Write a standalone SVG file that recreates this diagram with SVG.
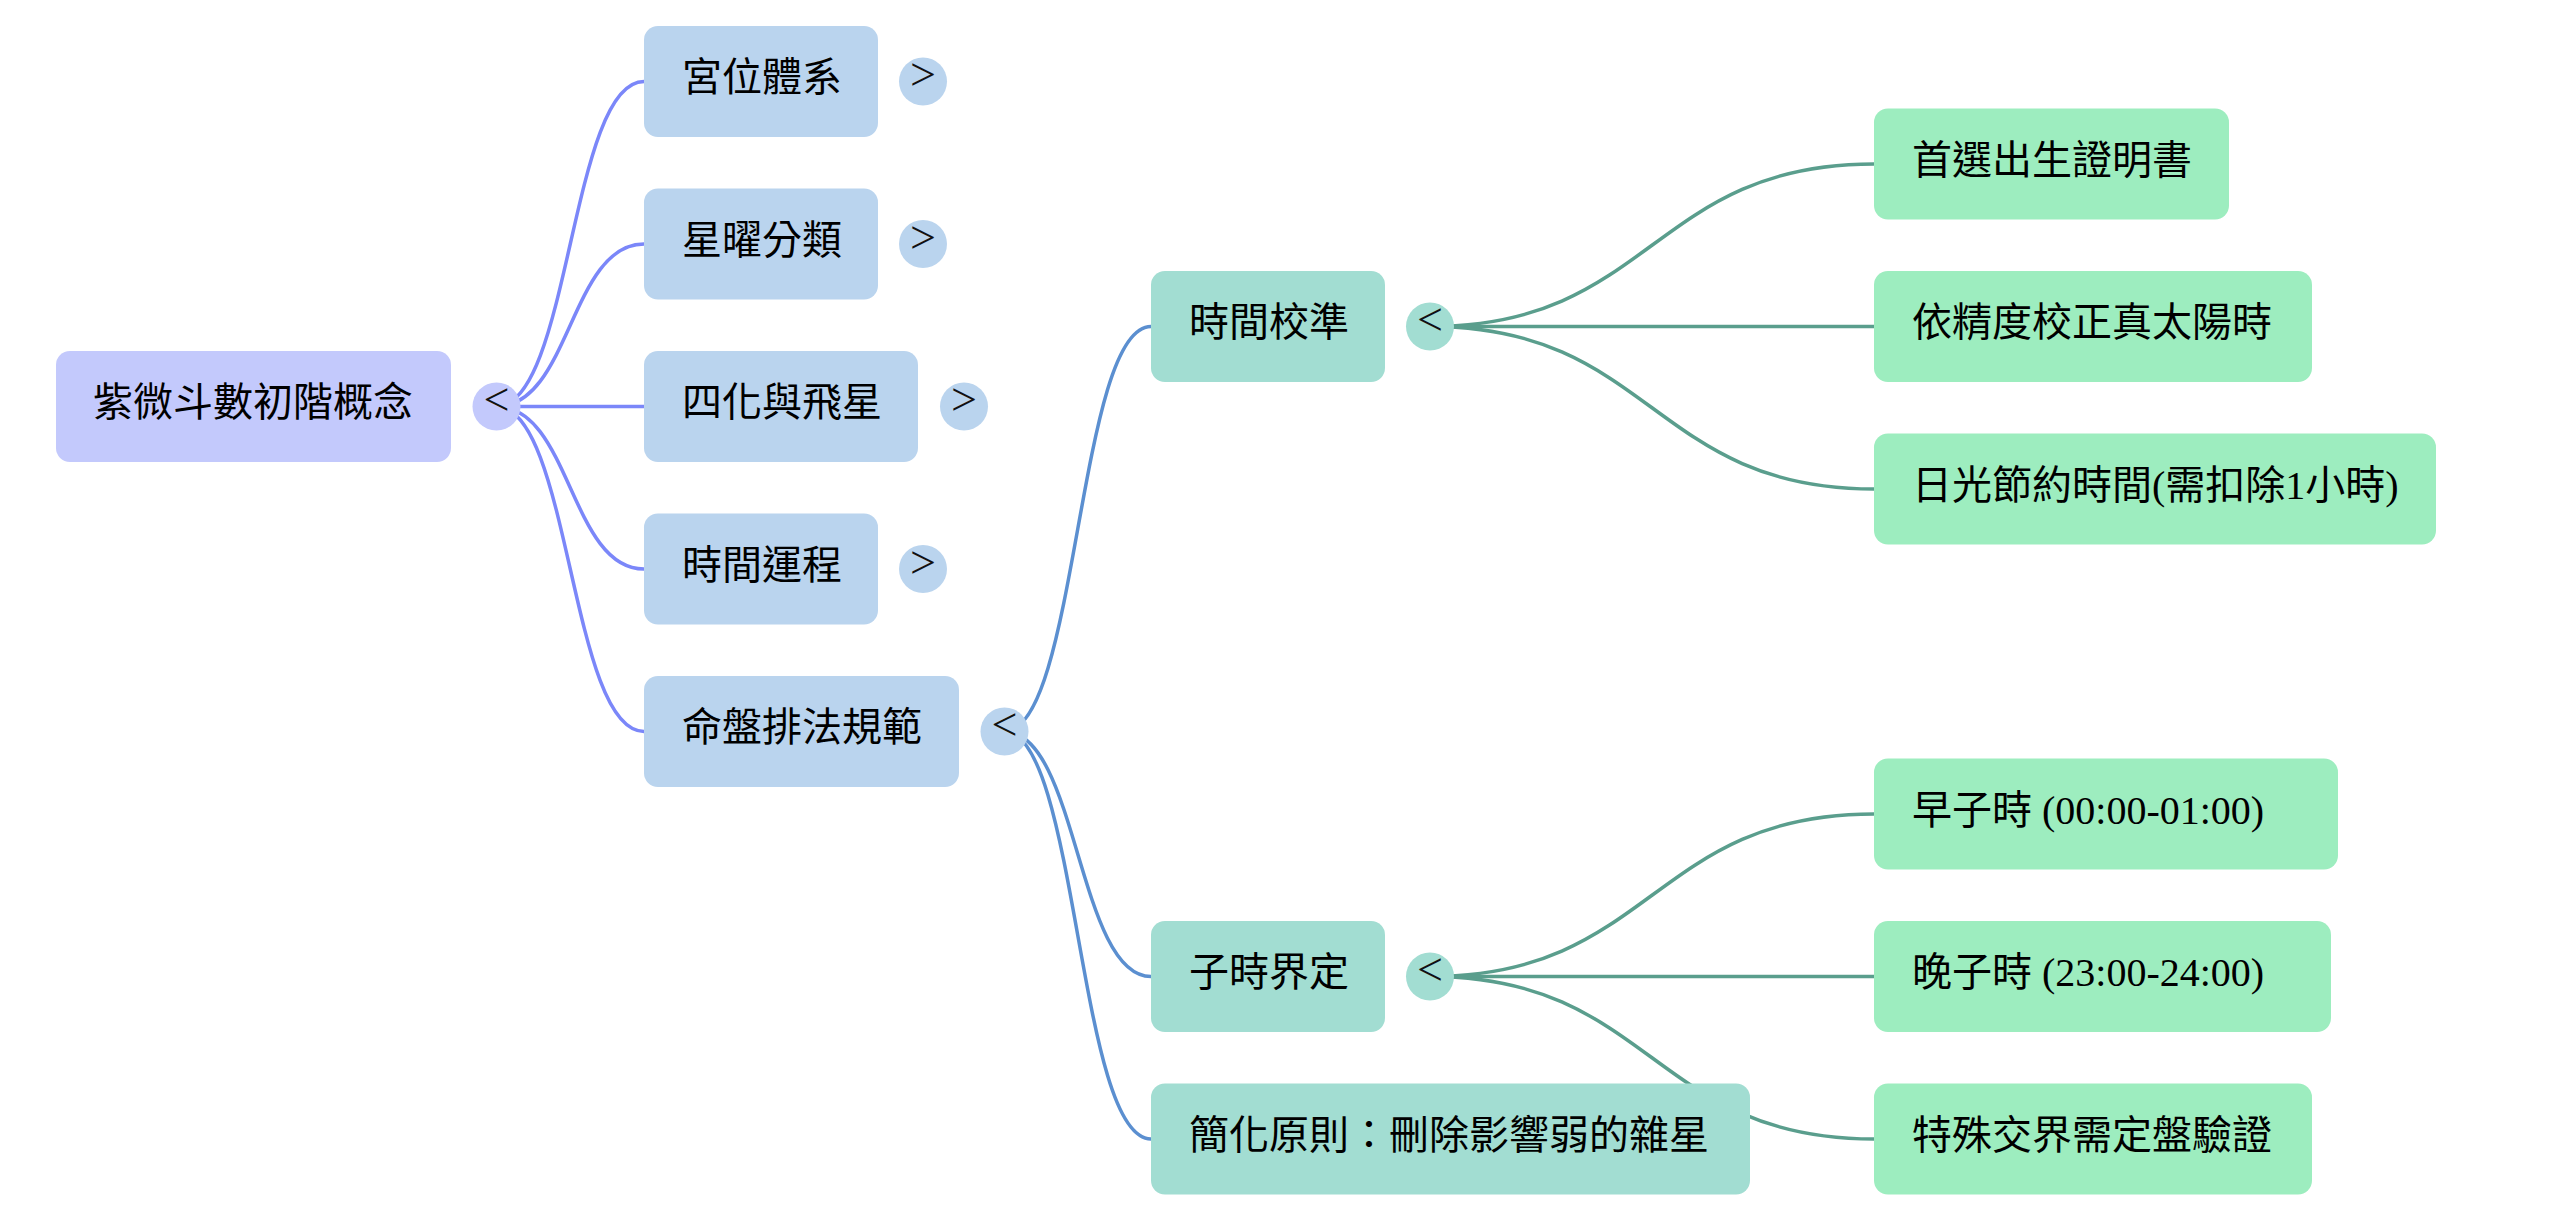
<svg xmlns="http://www.w3.org/2000/svg" width="2560" height="1219" viewBox="0 0 2560 1219">
<style>
text{font-family:"Liberation Serif","Noto Sans CJK TC","Noto Sans CJK SC",serif;font-size:40px;fill:#000}
.btn{font-size:46px;text-anchor:middle;fill:#111}
.e{fill:none;stroke-width:3.5}
.e0{stroke:#7b87f9}
.e1{stroke:#5b8fd0}
.e2{stroke:#5a9e8d}
.r0{fill:#c3c9fc}
.r1{fill:#bad4ee}
.r2{fill:#a2ddd2}
.r3{fill:#9dedbf}
</style>
<rect width="2560" height="1219" fill="#fff"/>
<g id="connectors">
<path class="e e0" d="M496.5 406.5 C570.25 406.5 570.25 81.5 644 81.5"/>
<path class="e e0" d="M496.5 406.5 C570.25 406.5 570.25 244 644 244"/>
<path class="e e0" d="M496.5 406.5 L644 406.5"/>
<path class="e e0" d="M496.5 406.5 C570.25 406.5 570.25 569 644 569"/>
<path class="e e0" d="M496.5 406.5 C570.25 406.5 570.25 731.5 644 731.5"/>
<path class="e e1" d="M1004.5 731.5 C1077.75 731.5 1077.75 326.5 1151 326.5"/>
<path class="e e1" d="M1004.5 731.5 C1077.75 731.5 1077.75 976.5 1151 976.5"/>
<path class="e e1" d="M1004.5 731.5 C1077.75 731.5 1077.75 1139 1151 1139"/>
<path class="e e2" d="M1430 326.5 C1652 326.5 1652 164 1874 164"/>
<path class="e e2" d="M1430 326.5 L1874 326.5"/>
<path class="e e2" d="M1430 326.5 C1652 326.5 1652 489 1874 489"/>
<path class="e e2" d="M1430 976.5 C1652 976.5 1652 814 1874 814"/>
<path class="e e2" d="M1430 976.5 L1874 976.5"/>
<path class="e e2" d="M1430 976.5 C1652 976.5 1652 1139 1874 1139"/>
</g>
<g id="root">
<rect class="r0" x="56" y="351" width="395" height="111" rx="14"/>
<text x="93" y="416">紫微斗數初階概念</text>
<circle class="r0" cx="496.5" cy="406.5" r="24"/>
<text class="btn" x="496.5" y="415">&lt;</text>
</g>
<g id="n-gongwei">
<rect class="r1" x="644" y="26" width="234" height="111" rx="14"/>
<text x="682" y="91">宮位體系</text>
<circle class="r1" cx="923" cy="81.5" r="24"/>
<text class="btn" x="923" y="90">&gt;</text>
</g>
<g id="n-xingyao">
<rect class="r1" x="644" y="188.5" width="234" height="111" rx="14"/>
<text x="682" y="253.5">星曜分類</text>
<circle class="r1" cx="923" cy="244" r="24"/>
<text class="btn" x="923" y="252.5">&gt;</text>
</g>
<g id="n-sihua">
<rect class="r1" x="644" y="351" width="274" height="111" rx="14"/>
<text x="682" y="416">四化與飛星</text>
<circle class="r1" cx="964" cy="406.5" r="24"/>
<text class="btn" x="964" y="415">&gt;</text>
</g>
<g id="n-shijian">
<rect class="r1" x="644" y="513.5" width="234" height="111" rx="14"/>
<text x="682" y="578.5">時間運程</text>
<circle class="r1" cx="923" cy="569" r="24"/>
<text class="btn" x="923" y="577.5">&gt;</text>
</g>
<g id="n-mingpan">
<rect class="r1" x="644" y="676" width="315" height="111" rx="14"/>
<text x="682" y="741">命盤排法規範</text>
<circle class="r1" cx="1004.5" cy="731.5" r="24"/>
<text class="btn" x="1004.5" y="740">&lt;</text>
</g>
<g id="n-jiaozhun">
<rect class="r2" x="1151" y="271" width="234" height="111" rx="14"/>
<text x="1189" y="336">時間校準</text>
<circle class="r2" cx="1430" cy="326.5" r="24"/>
<text class="btn" x="1430" y="335">&lt;</text>
</g>
<g id="n-zishi">
<rect class="r2" x="1151" y="921" width="234" height="111" rx="14"/>
<text x="1189" y="986">子時界定</text>
<circle class="r2" cx="1430" cy="976.5" r="24"/>
<text class="btn" x="1430" y="985">&lt;</text>
</g>
<g id="n-jianhua">
<rect class="r2" x="1151" y="1083.5" width="599" height="111" rx="14"/>
<text x="1189" y="1148.5">簡化原則：刪除影響弱的雜星</text>
</g>
<g id="n-shouxuan">
<rect class="r3" x="1874" y="108.5" width="355" height="111" rx="14"/>
<text x="1912" y="173.5">首選出生證明書</text>
</g>
<g id="n-jingdu">
<rect class="r3" x="1874" y="271" width="438" height="111" rx="14"/>
<text x="1912" y="336">依精度校正真太陽時</text>
</g>
<g id="n-riguang">
<rect class="r3" x="1874" y="433.5" width="562" height="111" rx="14"/>
<text x="1912" y="498.5">日光節約時間(需扣除1小時)</text>
</g>
<g id="n-zao">
<rect class="r3" x="1874" y="758.5" width="464" height="111" rx="14"/>
<text x="1912" y="823.5">早子時 (00:00-01:00)</text>
</g>
<g id="n-wan">
<rect class="r3" x="1874" y="921" width="457" height="111" rx="14"/>
<text x="1912" y="986">晚子時 (23:00-24:00)</text>
</g>
<g id="n-teshu">
<rect class="r3" x="1874" y="1083.5" width="438" height="111" rx="14"/>
<text x="1912" y="1148.5">特殊交界需定盤驗證</text>
</g>
</svg>
